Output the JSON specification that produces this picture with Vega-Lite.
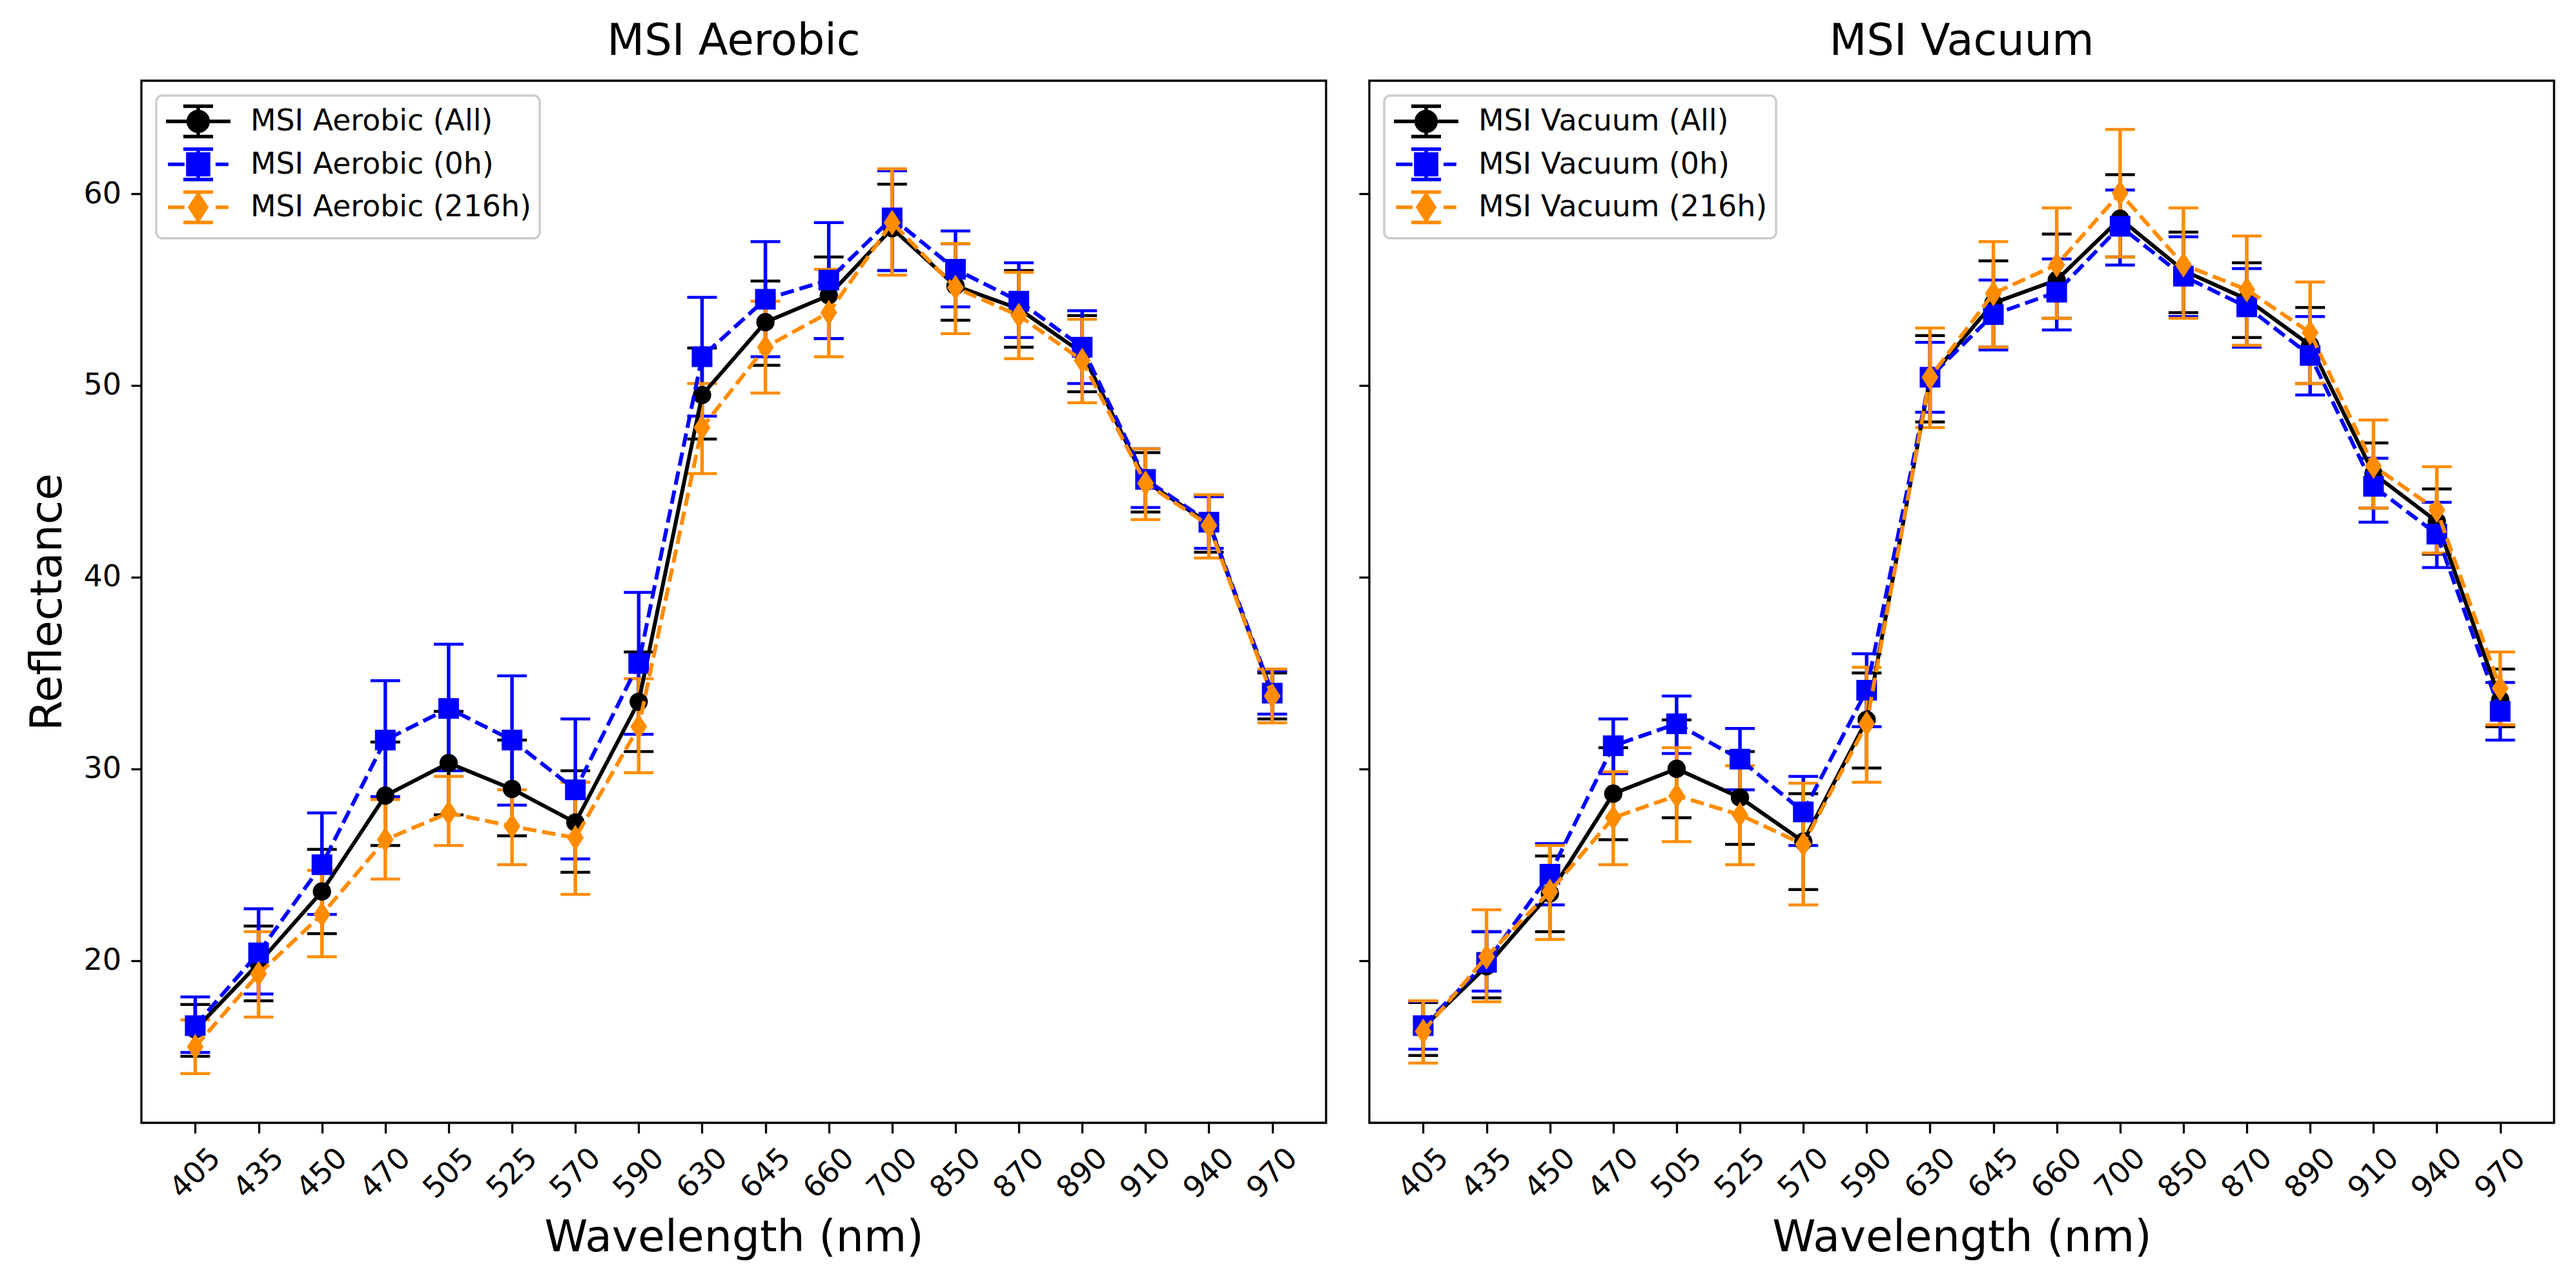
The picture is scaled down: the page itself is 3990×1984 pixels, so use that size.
{
 "$schema": "https://vega.github.io/schema/vega-lite/v6.json",
 "background": "white",
 "padding": {"left": 38, "top": 29, "right": 20, "bottom": 20},
 "config": {
  "font": "DejaVu Sans",
  "view": {"stroke": "black", "strokeWidth": 3.3},
  "axis": {"domain": false, "grid": false, "tickColor": "black", "tickWidth": 3.3, "tickSize": 16, "labelFont": "DejaVu Sans", "labelFontSize": 46, "labelColor": "black", "titleFont": "DejaVu Sans", "titleFontSize": 68, "titleFontWeight": "normal", "titleColor": "black"},
  "axisX": {"labelAngle": -45, "labelAlign": "center", "labelBaseline": "middle", "labelPadding": 62, "labelOverlap": false, "titleX": 917.5, "titleY": 198, "titleAlign": "center", "titleBaseline": "alphabetic"},
  "axisY": {"tickCount": 5, "labelPadding": 15.5, "titleX": -125, "titleY": 807, "titleAngle": -90, "titleAlign": "center", "titleBaseline": "alphabetic"},
  "title": {"font": "DejaVu Sans", "fontSize": 67, "fontWeight": "normal", "color": "black", "baseline": "alphabetic", "offset": 26, "frame": "group", "anchor": "middle"},
  "legend": {"labelFont": "DejaVu Sans", "labelFontSize": 45.8, "labelColor": "black", "labelLimit": 2000}
 },
 "datasets": {
  "msi": [
   {"p":"Aerobic","s":"MSI Aerobic (All)","g":"All","wl":"405","m":16.4,"lo":15.0,"hi":17.7},
   {"p":"Aerobic","s":"MSI Aerobic (All)","g":"All","wl":"435","m":19.85,"lo":17.9,"hi":21.8},
   {"p":"Aerobic","s":"MSI Aerobic (All)","g":"All","wl":"450","m":23.6,"lo":21.4,"hi":25.8},
   {"p":"Aerobic","s":"MSI Aerobic (All)","g":"All","wl":"470","m":28.6,"lo":26.0,"hi":31.4},
   {"p":"Aerobic","s":"MSI Aerobic (All)","g":"All","wl":"505","m":30.3,"lo":27.6,"hi":33.0},
   {"p":"Aerobic","s":"MSI Aerobic (All)","g":"All","wl":"525","m":28.95,"lo":26.5,"hi":31.5},
   {"p":"Aerobic","s":"MSI Aerobic (All)","g":"All","wl":"570","m":27.2,"lo":24.6,"hi":29.9},
   {"p":"Aerobic","s":"MSI Aerobic (All)","g":"All","wl":"590","m":33.5,"lo":30.9,"hi":36.1},
   {"p":"Aerobic","s":"MSI Aerobic (All)","g":"All","wl":"630","m":49.5,"lo":47.2,"hi":51.95},
   {"p":"Aerobic","s":"MSI Aerobic (All)","g":"All","wl":"645","m":53.3,"lo":51.05,"hi":55.45},
   {"p":"Aerobic","s":"MSI Aerobic (All)","g":"All","wl":"660","m":54.7,"lo":52.45,"hi":56.7},
   {"p":"Aerobic","s":"MSI Aerobic (All)","g":"All","wl":"700","m":58.2,"lo":56.0,"hi":60.5},
   {"p":"Aerobic","s":"MSI Aerobic (All)","g":"All","wl":"850","m":55.2,"lo":53.4,"hi":57.4},
   {"p":"Aerobic","s":"MSI Aerobic (All)","g":"All","wl":"870","m":54.0,"lo":52.0,"hi":56.0},
   {"p":"Aerobic","s":"MSI Aerobic (All)","g":"All","wl":"890","m":51.7,"lo":49.67,"hi":53.65},
   {"p":"Aerobic","s":"MSI Aerobic (All)","g":"All","wl":"910","m":45.0,"lo":43.4,"hi":46.5},
   {"p":"Aerobic","s":"MSI Aerobic (All)","g":"All","wl":"940","m":42.8,"lo":41.3,"hi":44.27},
   {"p":"Aerobic","s":"MSI Aerobic (All)","g":"All","wl":"970","m":33.85,"lo":32.6,"hi":35.0},
   {"p":"Aerobic","s":"MSI Aerobic (0h)","g":"0h","wl":"405","m":16.6,"lo":15.2,"hi":18.1},
   {"p":"Aerobic","s":"MSI Aerobic (0h)","g":"0h","wl":"435","m":20.4,"lo":18.25,"hi":22.7},
   {"p":"Aerobic","s":"MSI Aerobic (0h)","g":"0h","wl":"450","m":25.0,"lo":22.4,"hi":27.7},
   {"p":"Aerobic","s":"MSI Aerobic (0h)","g":"0h","wl":"470","m":31.5,"lo":28.55,"hi":34.6},
   {"p":"Aerobic","s":"MSI Aerobic (0h)","g":"0h","wl":"505","m":33.15,"lo":29.9,"hi":36.5},
   {"p":"Aerobic","s":"MSI Aerobic (0h)","g":"0h","wl":"525","m":31.5,"lo":28.1,"hi":34.85},
   {"p":"Aerobic","s":"MSI Aerobic (0h)","g":"0h","wl":"570","m":28.9,"lo":25.3,"hi":32.6},
   {"p":"Aerobic","s":"MSI Aerobic (0h)","g":"0h","wl":"590","m":35.5,"lo":31.8,"hi":39.2},
   {"p":"Aerobic","s":"MSI Aerobic (0h)","g":"0h","wl":"630","m":51.5,"lo":48.4,"hi":54.6},
   {"p":"Aerobic","s":"MSI Aerobic (0h)","g":"0h","wl":"645","m":54.5,"lo":51.5,"hi":57.5},
   {"p":"Aerobic","s":"MSI Aerobic (0h)","g":"0h","wl":"660","m":55.5,"lo":52.45,"hi":58.5},
   {"p":"Aerobic","s":"MSI Aerobic (0h)","g":"0h","wl":"700","m":58.74,"lo":56.0,"hi":61.2},
   {"p":"Aerobic","s":"MSI Aerobic (0h)","g":"0h","wl":"850","m":56.06,"lo":54.1,"hi":58.06},
   {"p":"Aerobic","s":"MSI Aerobic (0h)","g":"0h","wl":"870","m":54.4,"lo":52.5,"hi":56.4},
   {"p":"Aerobic","s":"MSI Aerobic (0h)","g":"0h","wl":"890","m":52.0,"lo":50.1,"hi":53.9},
   {"p":"Aerobic","s":"MSI Aerobic (0h)","g":"0h","wl":"910","m":45.1,"lo":43.63,"hi":46.7},
   {"p":"Aerobic","s":"MSI Aerobic (0h)","g":"0h","wl":"940","m":42.87,"lo":41.5,"hi":44.2},
   {"p":"Aerobic","s":"MSI Aerobic (0h)","g":"0h","wl":"970","m":33.95,"lo":32.85,"hi":35.1},
   {"p":"Aerobic","s":"MSI Aerobic (216h)","g":"216h","wl":"405","m":15.5,"lo":14.1,"hi":16.9},
   {"p":"Aerobic","s":"MSI Aerobic (216h)","g":"216h","wl":"435","m":19.3,"lo":17.05,"hi":21.5},
   {"p":"Aerobic","s":"MSI Aerobic (216h)","g":"216h","wl":"450","m":22.4,"lo":20.2,"hi":24.7},
   {"p":"Aerobic","s":"MSI Aerobic (216h)","g":"216h","wl":"470","m":26.3,"lo":24.25,"hi":28.4},
   {"p":"Aerobic","s":"MSI Aerobic (216h)","g":"216h","wl":"505","m":27.7,"lo":26.0,"hi":29.6},
   {"p":"Aerobic","s":"MSI Aerobic (216h)","g":"216h","wl":"525","m":27.0,"lo":25.0,"hi":28.9},
   {"p":"Aerobic","s":"MSI Aerobic (216h)","g":"216h","wl":"570","m":26.4,"lo":23.45,"hi":29.3},
   {"p":"Aerobic","s":"MSI Aerobic (216h)","g":"216h","wl":"590","m":32.2,"lo":29.8,"hi":34.7},
   {"p":"Aerobic","s":"MSI Aerobic (216h)","g":"216h","wl":"630","m":47.8,"lo":45.4,"hi":50.1},
   {"p":"Aerobic","s":"MSI Aerobic (216h)","g":"216h","wl":"645","m":52.0,"lo":49.6,"hi":54.4},
   {"p":"Aerobic","s":"MSI Aerobic (216h)","g":"216h","wl":"660","m":53.8,"lo":51.5,"hi":56.06},
   {"p":"Aerobic","s":"MSI Aerobic (216h)","g":"216h","wl":"700","m":58.5,"lo":55.75,"hi":61.3},
   {"p":"Aerobic","s":"MSI Aerobic (216h)","g":"216h","wl":"850","m":55.1,"lo":52.7,"hi":57.4},
   {"p":"Aerobic","s":"MSI Aerobic (216h)","g":"216h","wl":"870","m":53.65,"lo":51.4,"hi":55.9},
   {"p":"Aerobic","s":"MSI Aerobic (216h)","g":"216h","wl":"890","m":51.3,"lo":49.1,"hi":53.45},
   {"p":"Aerobic","s":"MSI Aerobic (216h)","g":"216h","wl":"910","m":44.9,"lo":43.0,"hi":46.7},
   {"p":"Aerobic","s":"MSI Aerobic (216h)","g":"216h","wl":"940","m":42.7,"lo":41.0,"hi":44.3},
   {"p":"Aerobic","s":"MSI Aerobic (216h)","g":"216h","wl":"970","m":33.8,"lo":32.4,"hi":35.2},
   {"p":"Vacuum","s":"MSI Vacuum (All)","g":"All","wl":"405","m":16.5,"lo":15.04,"hi":17.8},
   {"p":"Vacuum","s":"MSI Vacuum (All)","g":"All","wl":"435","m":19.7,"lo":18.05,"hi":21.5},
   {"p":"Vacuum","s":"MSI Vacuum (All)","g":"All","wl":"450","m":23.5,"lo":21.5,"hi":25.45},
   {"p":"Vacuum","s":"MSI Vacuum (All)","g":"All","wl":"470","m":28.7,"lo":26.3,"hi":31.1},
   {"p":"Vacuum","s":"MSI Vacuum (All)","g":"All","wl":"505","m":30.0,"lo":27.45,"hi":32.55},
   {"p":"Vacuum","s":"MSI Vacuum (All)","g":"All","wl":"525","m":28.5,"lo":26.06,"hi":30.9},
   {"p":"Vacuum","s":"MSI Vacuum (All)","g":"All","wl":"570","m":26.2,"lo":23.7,"hi":28.7},
   {"p":"Vacuum","s":"MSI Vacuum (All)","g":"All","wl":"590","m":32.55,"lo":30.04,"hi":35.0},
   {"p":"Vacuum","s":"MSI Vacuum (All)","g":"All","wl":"630","m":50.4,"lo":48.1,"hi":52.6},
   {"p":"Vacuum","s":"MSI Vacuum (All)","g":"All","wl":"645","m":54.3,"lo":52.0,"hi":56.5},
   {"p":"Vacuum","s":"MSI Vacuum (All)","g":"All","wl":"660","m":55.5,"lo":53.5,"hi":57.9},
   {"p":"Vacuum","s":"MSI Vacuum (All)","g":"All","wl":"700","m":58.7,"lo":56.7,"hi":61.0},
   {"p":"Vacuum","s":"MSI Vacuum (All)","g":"All","wl":"850","m":56.0,"lo":53.8,"hi":58.0},
   {"p":"Vacuum","s":"MSI Vacuum (All)","g":"All","wl":"870","m":54.5,"lo":52.5,"hi":56.4},
   {"p":"Vacuum","s":"MSI Vacuum (All)","g":"All","wl":"890","m":52.1,"lo":50.1,"hi":54.07},
   {"p":"Vacuum","s":"MSI Vacuum (All)","g":"All","wl":"910","m":45.4,"lo":43.6,"hi":47.0},
   {"p":"Vacuum","s":"MSI Vacuum (All)","g":"All","wl":"940","m":42.9,"lo":41.2,"hi":44.6},
   {"p":"Vacuum","s":"MSI Vacuum (All)","g":"All","wl":"970","m":33.6,"lo":32.2,"hi":35.2},
   {"p":"Vacuum","s":"MSI Vacuum (0h)","g":"0h","wl":"405","m":16.6,"lo":15.37,"hi":17.86},
   {"p":"Vacuum","s":"MSI Vacuum (0h)","g":"0h","wl":"435","m":19.9,"lo":18.4,"hi":21.5},
   {"p":"Vacuum","s":"MSI Vacuum (0h)","g":"0h","wl":"450","m":24.5,"lo":22.9,"hi":26.1},
   {"p":"Vacuum","s":"MSI Vacuum (0h)","g":"0h","wl":"470","m":31.2,"lo":29.75,"hi":32.6},
   {"p":"Vacuum","s":"MSI Vacuum (0h)","g":"0h","wl":"505","m":32.35,"lo":30.8,"hi":33.8},
   {"p":"Vacuum","s":"MSI Vacuum (0h)","g":"0h","wl":"525","m":30.5,"lo":28.9,"hi":32.1},
   {"p":"Vacuum","s":"MSI Vacuum (0h)","g":"0h","wl":"570","m":27.75,"lo":26.0,"hi":29.6},
   {"p":"Vacuum","s":"MSI Vacuum (0h)","g":"0h","wl":"590","m":34.1,"lo":32.2,"hi":36.0},
   {"p":"Vacuum","s":"MSI Vacuum (0h)","g":"0h","wl":"630","m":50.43,"lo":48.6,"hi":52.25},
   {"p":"Vacuum","s":"MSI Vacuum (0h)","g":"0h","wl":"645","m":53.7,"lo":51.85,"hi":55.5},
   {"p":"Vacuum","s":"MSI Vacuum (0h)","g":"0h","wl":"660","m":54.87,"lo":52.9,"hi":56.6},
   {"p":"Vacuum","s":"MSI Vacuum (0h)","g":"0h","wl":"700","m":58.3,"lo":56.28,"hi":60.2},
   {"p":"Vacuum","s":"MSI Vacuum (0h)","g":"0h","wl":"850","m":55.7,"lo":53.6,"hi":57.76},
   {"p":"Vacuum","s":"MSI Vacuum (0h)","g":"0h","wl":"870","m":54.1,"lo":52.0,"hi":56.1},
   {"p":"Vacuum","s":"MSI Vacuum (0h)","g":"0h","wl":"890","m":51.57,"lo":49.5,"hi":53.6},
   {"p":"Vacuum","s":"MSI Vacuum (0h)","g":"0h","wl":"910","m":44.74,"lo":42.87,"hi":46.2},
   {"p":"Vacuum","s":"MSI Vacuum (0h)","g":"0h","wl":"940","m":42.24,"lo":40.5,"hi":43.9},
   {"p":"Vacuum","s":"MSI Vacuum (0h)","g":"0h","wl":"970","m":33.0,"lo":31.5,"hi":34.5},
   {"p":"Vacuum","s":"MSI Vacuum (216h)","g":"216h","wl":"405","m":16.3,"lo":14.65,"hi":17.9},
   {"p":"Vacuum","s":"MSI Vacuum (216h)","g":"216h","wl":"435","m":20.2,"lo":17.85,"hi":22.65},
   {"p":"Vacuum","s":"MSI Vacuum (216h)","g":"216h","wl":"450","m":23.6,"lo":21.1,"hi":26.0},
   {"p":"Vacuum","s":"MSI Vacuum (216h)","g":"216h","wl":"470","m":27.45,"lo":25.0,"hi":29.85},
   {"p":"Vacuum","s":"MSI Vacuum (216h)","g":"216h","wl":"505","m":28.6,"lo":26.2,"hi":31.1},
   {"p":"Vacuum","s":"MSI Vacuum (216h)","g":"216h","wl":"525","m":27.6,"lo":25.0,"hi":30.16},
   {"p":"Vacuum","s":"MSI Vacuum (216h)","g":"216h","wl":"570","m":26.06,"lo":22.9,"hi":29.25},
   {"p":"Vacuum","s":"MSI Vacuum (216h)","g":"216h","wl":"590","m":32.35,"lo":29.3,"hi":35.3},
   {"p":"Vacuum","s":"MSI Vacuum (216h)","g":"216h","wl":"630","m":50.43,"lo":47.8,"hi":53.0},
   {"p":"Vacuum","s":"MSI Vacuum (216h)","g":"216h","wl":"645","m":54.8,"lo":52.0,"hi":57.5},
   {"p":"Vacuum","s":"MSI Vacuum (216h)","g":"216h","wl":"660","m":56.3,"lo":53.5,"hi":59.26},
   {"p":"Vacuum","s":"MSI Vacuum (216h)","g":"216h","wl":"700","m":60.04,"lo":56.7,"hi":63.36},
   {"p":"Vacuum","s":"MSI Vacuum (216h)","g":"216h","wl":"850","m":56.3,"lo":53.5,"hi":59.26},
   {"p":"Vacuum","s":"MSI Vacuum (216h)","g":"216h","wl":"870","m":55.0,"lo":52.1,"hi":57.8},
   {"p":"Vacuum","s":"MSI Vacuum (216h)","g":"216h","wl":"890","m":52.75,"lo":50.1,"hi":55.4},
   {"p":"Vacuum","s":"MSI Vacuum (216h)","g":"216h","wl":"910","m":45.8,"lo":43.6,"hi":48.2},
   {"p":"Vacuum","s":"MSI Vacuum (216h)","g":"216h","wl":"940","m":43.5,"lo":41.26,"hi":45.76},
   {"p":"Vacuum","s":"MSI Vacuum (216h)","g":"216h","wl":"970","m":34.2,"lo":32.3,"hi":36.1}
  ]
 },
 "spacing": 67,
 "bounds": "flush",
 "resolve": {"scale": {"color": "independent"}, "legend": {"color": "independent"}},
 "hconcat": [
  {
   "width": 1835, "height": 1614,
   "title": {"text": "MSI Aerobic"},
   "data": {"name": "msi"},
   "transform": [{"filter": "datum.p === 'Aerobic'"}],
   "encoding": {
    "x": {"field": "wl", "type": "ordinal", "title": "Wavelength (nm)", "scale": {"type": "point", "padding": 0.85}},
    "color": {"field": "s", "type": "nominal",
     "scale": {"domain": ["MSI Aerobic (All)", "MSI Aerobic (0h)", "MSI Aerobic (216h)"], "range": ["black", "blue", "#ff8c00"]},
     "legend": {"title": null, "orient": "top-left", "offset": 23, "padding": 13, "symbolSize": 2304, "symbolStrokeWidth": 5.5, "symbolOffset": 25, "labelOffset": 54, "rowPadding": -3.5, "fillColor": "rgba(255,255,255,0.8)", "strokeColor": "#cccccc", "cornerRadius": 9,
      "encode": {
       "legend": {"update": {"strokeWidth": {"value": 3.5}}},
       "symbols": {"update": {
        "shape": {"signal": "datum.value === 'MSI Aerobic (All)' ? 'M-2.08,0H2.08M0,-0.98V0.98M-0.96,-0.98H0.96M-0.96,0.98H0.96M-0.64,0A0.64,0.64,0,1,1,0.64,0A0.64,0.64,0,1,1,-0.64,0Z' : datum.value === 'MSI Aerobic (0h)' ? 'M-1.95,0H-0.88M1.12,0H1.95M0,-0.98V0.98M-0.96,-0.98H0.96M-0.96,0.98H0.96M-0.67,-0.67H0.67V0.67H-0.67Z' : 'M-1.95,0H-0.88M1.12,0H1.95M0,-0.98V0.98M-0.96,-0.98H0.96M-0.96,0.98H0.96M0,-0.83L0.54,0L0,0.83L-0.54,0Z'"},
        "fill": {"signal": "datum.value === 'MSI Aerobic (All)' ? 'black' : datum.value === 'MSI Aerobic (0h)' ? 'blue' : '#ff8c00'"},
        "stroke": {"signal": "datum.value === 'MSI Aerobic (All)' ? 'black' : datum.value === 'MSI Aerobic (0h)' ? 'blue' : '#ff8c00'"},
        "strokeWidth": {"value": 5.5}, "size": {"value": 2304}, "opacity": {"value": 1}, "fillOpacity": {"value": 1}, "strokeOpacity": {"value": 1}}}
      }}
    }
   },
   "layer": [
    {"transform": [{"filter": "datum.g === 'All'"}], "mark": {"type": "rule", "strokeWidth": 5.5}, "encoding": {"y": {"field": "lo", "type": "quantitative", "title": "Reflectance", "scale": {"domain": [11.53, 65.9], "nice": false, "zero": false}}, "y2": {"field": "hi"}}},
    {"transform": [{"filter": "datum.g === 'All'"}], "mark": {"type": "tick", "size": 46, "thickness": 4.5, "opacity": 1}, "encoding": {"y": {"field": "lo", "type": "quantitative", "title": "Reflectance", "scale": {"domain": [11.53, 65.9], "nice": false, "zero": false}}}},
    {"transform": [{"filter": "datum.g === 'All'"}], "mark": {"type": "tick", "size": 46, "thickness": 4.5, "opacity": 1}, "encoding": {"y": {"field": "hi", "type": "quantitative", "title": "Reflectance", "scale": {"domain": [11.53, 65.9], "nice": false, "zero": false}}}},
    {"transform": [{"filter": "datum.g === '0h'"}], "mark": {"type": "rule", "strokeWidth": 5.5}, "encoding": {"y": {"field": "lo", "type": "quantitative", "title": "Reflectance", "scale": {"domain": [11.53, 65.9], "nice": false, "zero": false}}, "y2": {"field": "hi"}}},
    {"transform": [{"filter": "datum.g === '0h'"}], "mark": {"type": "tick", "size": 46, "thickness": 4.5, "opacity": 1}, "encoding": {"y": {"field": "lo", "type": "quantitative", "title": "Reflectance", "scale": {"domain": [11.53, 65.9], "nice": false, "zero": false}}}},
    {"transform": [{"filter": "datum.g === '0h'"}], "mark": {"type": "tick", "size": 46, "thickness": 4.5, "opacity": 1}, "encoding": {"y": {"field": "hi", "type": "quantitative", "title": "Reflectance", "scale": {"domain": [11.53, 65.9], "nice": false, "zero": false}}}},
    {"transform": [{"filter": "datum.g === '216h'"}], "mark": {"type": "rule", "strokeWidth": 5.5}, "encoding": {"y": {"field": "lo", "type": "quantitative", "title": "Reflectance", "scale": {"domain": [11.53, 65.9], "nice": false, "zero": false}}, "y2": {"field": "hi"}}},
    {"transform": [{"filter": "datum.g === '216h'"}], "mark": {"type": "tick", "size": 46, "thickness": 4.5, "opacity": 1}, "encoding": {"y": {"field": "lo", "type": "quantitative", "title": "Reflectance", "scale": {"domain": [11.53, 65.9], "nice": false, "zero": false}}}},
    {"transform": [{"filter": "datum.g === '216h'"}], "mark": {"type": "tick", "size": 46, "thickness": 4.5, "opacity": 1}, "encoding": {"y": {"field": "hi", "type": "quantitative", "title": "Reflectance", "scale": {"domain": [11.53, 65.9], "nice": false, "zero": false}}}},
    {"transform": [{"filter": "datum.g === 'All'"}], "mark": {"type": "line", "strokeWidth": 6}, "encoding": {"y": {"field": "m", "type": "quantitative", "title": "Reflectance", "scale": {"domain": [11.53, 65.9], "nice": false, "zero": false}}}},
    {"transform": [{"filter": "datum.g === 'All'"}], "mark": {"type": "point", "shape": "circle", "size": 804, "filled": true, "opacity": 1, "strokeWidth": 0}, "encoding": {"y": {"field": "m", "type": "quantitative", "title": "Reflectance", "scale": {"domain": [11.53, 65.9], "nice": false, "zero": false}}}},
    {"transform": [{"filter": "datum.g === '0h'"}], "mark": {"type": "line", "strokeWidth": 6, "strokeDash": [21, 9]}, "encoding": {"y": {"field": "m", "type": "quantitative", "title": "Reflectance", "scale": {"domain": [11.53, 65.9], "nice": false, "zero": false}}}},
    {"transform": [{"filter": "datum.g === '0h'"}], "mark": {"type": "point", "shape": "square", "size": 1024, "filled": true, "opacity": 1, "strokeWidth": 0}, "encoding": {"y": {"field": "m", "type": "quantitative", "title": "Reflectance", "scale": {"domain": [11.53, 65.9], "nice": false, "zero": false}}}},
    {"transform": [{"filter": "datum.g === '216h'"}], "mark": {"type": "line", "strokeWidth": 6, "strokeDash": [21, 9]}, "encoding": {"y": {"field": "m", "type": "quantitative", "title": "Reflectance", "scale": {"domain": [11.53, 65.9], "nice": false, "zero": false}}}},
    {"transform": [{"filter": "datum.g === '216h'"}], "mark": {"type": "point", "shape": "M0,-1L0.65,0L0,1L-0.65,0Z", "size": 1600, "filled": true, "opacity": 1, "strokeWidth": 0}, "encoding": {"y": {"field": "m", "type": "quantitative", "title": "Reflectance", "scale": {"domain": [11.53, 65.9], "nice": false, "zero": false}}}}
   ]
  },
  {
   "width": 1835, "height": 1614,
   "title": {"text": "MSI Vacuum"},
   "data": {"name": "msi"},
   "transform": [{"filter": "datum.p === 'Vacuum'"}],
   "encoding": {
    "x": {"field": "wl", "type": "ordinal", "title": "Wavelength (nm)", "scale": {"type": "point", "padding": 0.85}},
    "color": {"field": "s", "type": "nominal",
     "scale": {"domain": ["MSI Vacuum (All)", "MSI Vacuum (0h)", "MSI Vacuum (216h)"], "range": ["black", "blue", "#ff8c00"]},
     "legend": {"title": null, "orient": "top-left", "offset": 23, "padding": 13, "symbolSize": 2304, "symbolStrokeWidth": 5.5, "symbolOffset": 25, "labelOffset": 54, "rowPadding": -3.5, "fillColor": "rgba(255,255,255,0.8)", "strokeColor": "#cccccc", "cornerRadius": 9,
      "encode": {
       "legend": {"update": {"strokeWidth": {"value": 3.5}}},
       "symbols": {"update": {
        "shape": {"signal": "datum.value === 'MSI Vacuum (All)' ? 'M-2.08,0H2.08M0,-0.98V0.98M-0.96,-0.98H0.96M-0.96,0.98H0.96M-0.64,0A0.64,0.64,0,1,1,0.64,0A0.64,0.64,0,1,1,-0.64,0Z' : datum.value === 'MSI Vacuum (0h)' ? 'M-1.95,0H-0.88M1.12,0H1.95M0,-0.98V0.98M-0.96,-0.98H0.96M-0.96,0.98H0.96M-0.67,-0.67H0.67V0.67H-0.67Z' : 'M-1.95,0H-0.88M1.12,0H1.95M0,-0.98V0.98M-0.96,-0.98H0.96M-0.96,0.98H0.96M0,-0.83L0.54,0L0,0.83L-0.54,0Z'"},
        "fill": {"signal": "datum.value === 'MSI Vacuum (All)' ? 'black' : datum.value === 'MSI Vacuum (0h)' ? 'blue' : '#ff8c00'"},
        "stroke": {"signal": "datum.value === 'MSI Vacuum (All)' ? 'black' : datum.value === 'MSI Vacuum (0h)' ? 'blue' : '#ff8c00'"},
        "strokeWidth": {"value": 5.5}, "size": {"value": 2304}, "opacity": {"value": 1}, "fillOpacity": {"value": 1}, "strokeOpacity": {"value": 1}}}
      }}
    }
   },
   "layer": [
    {"transform": [{"filter": "datum.g === 'All'"}], "mark": {"type": "rule", "strokeWidth": 5.5}, "encoding": {"y": {"field": "lo", "type": "quantitative", "axis": {"labels": false, "title": null}, "scale": {"domain": [11.53, 65.9], "nice": false, "zero": false}}, "y2": {"field": "hi"}}},
    {"transform": [{"filter": "datum.g === 'All'"}], "mark": {"type": "tick", "size": 46, "thickness": 4.5, "opacity": 1}, "encoding": {"y": {"field": "lo", "type": "quantitative", "axis": {"labels": false, "title": null}, "scale": {"domain": [11.53, 65.9], "nice": false, "zero": false}}}},
    {"transform": [{"filter": "datum.g === 'All'"}], "mark": {"type": "tick", "size": 46, "thickness": 4.5, "opacity": 1}, "encoding": {"y": {"field": "hi", "type": "quantitative", "axis": {"labels": false, "title": null}, "scale": {"domain": [11.53, 65.9], "nice": false, "zero": false}}}},
    {"transform": [{"filter": "datum.g === '0h'"}], "mark": {"type": "rule", "strokeWidth": 5.5}, "encoding": {"y": {"field": "lo", "type": "quantitative", "axis": {"labels": false, "title": null}, "scale": {"domain": [11.53, 65.9], "nice": false, "zero": false}}, "y2": {"field": "hi"}}},
    {"transform": [{"filter": "datum.g === '0h'"}], "mark": {"type": "tick", "size": 46, "thickness": 4.5, "opacity": 1}, "encoding": {"y": {"field": "lo", "type": "quantitative", "axis": {"labels": false, "title": null}, "scale": {"domain": [11.53, 65.9], "nice": false, "zero": false}}}},
    {"transform": [{"filter": "datum.g === '0h'"}], "mark": {"type": "tick", "size": 46, "thickness": 4.5, "opacity": 1}, "encoding": {"y": {"field": "hi", "type": "quantitative", "axis": {"labels": false, "title": null}, "scale": {"domain": [11.53, 65.9], "nice": false, "zero": false}}}},
    {"transform": [{"filter": "datum.g === '216h'"}], "mark": {"type": "rule", "strokeWidth": 5.5}, "encoding": {"y": {"field": "lo", "type": "quantitative", "axis": {"labels": false, "title": null}, "scale": {"domain": [11.53, 65.9], "nice": false, "zero": false}}, "y2": {"field": "hi"}}},
    {"transform": [{"filter": "datum.g === '216h'"}], "mark": {"type": "tick", "size": 46, "thickness": 4.5, "opacity": 1}, "encoding": {"y": {"field": "lo", "type": "quantitative", "axis": {"labels": false, "title": null}, "scale": {"domain": [11.53, 65.9], "nice": false, "zero": false}}}},
    {"transform": [{"filter": "datum.g === '216h'"}], "mark": {"type": "tick", "size": 46, "thickness": 4.5, "opacity": 1}, "encoding": {"y": {"field": "hi", "type": "quantitative", "axis": {"labels": false, "title": null}, "scale": {"domain": [11.53, 65.9], "nice": false, "zero": false}}}},
    {"transform": [{"filter": "datum.g === 'All'"}], "mark": {"type": "line", "strokeWidth": 6}, "encoding": {"y": {"field": "m", "type": "quantitative", "axis": {"labels": false, "title": null}, "scale": {"domain": [11.53, 65.9], "nice": false, "zero": false}}}},
    {"transform": [{"filter": "datum.g === 'All'"}], "mark": {"type": "point", "shape": "circle", "size": 804, "filled": true, "opacity": 1, "strokeWidth": 0}, "encoding": {"y": {"field": "m", "type": "quantitative", "axis": {"labels": false, "title": null}, "scale": {"domain": [11.53, 65.9], "nice": false, "zero": false}}}},
    {"transform": [{"filter": "datum.g === '0h'"}], "mark": {"type": "line", "strokeWidth": 6, "strokeDash": [21, 9]}, "encoding": {"y": {"field": "m", "type": "quantitative", "axis": {"labels": false, "title": null}, "scale": {"domain": [11.53, 65.9], "nice": false, "zero": false}}}},
    {"transform": [{"filter": "datum.g === '0h'"}], "mark": {"type": "point", "shape": "square", "size": 1024, "filled": true, "opacity": 1, "strokeWidth": 0}, "encoding": {"y": {"field": "m", "type": "quantitative", "axis": {"labels": false, "title": null}, "scale": {"domain": [11.53, 65.9], "nice": false, "zero": false}}}},
    {"transform": [{"filter": "datum.g === '216h'"}], "mark": {"type": "line", "strokeWidth": 6, "strokeDash": [21, 9]}, "encoding": {"y": {"field": "m", "type": "quantitative", "axis": {"labels": false, "title": null}, "scale": {"domain": [11.53, 65.9], "nice": false, "zero": false}}}},
    {"transform": [{"filter": "datum.g === '216h'"}], "mark": {"type": "point", "shape": "M0,-1L0.65,0L0,1L-0.65,0Z", "size": 1600, "filled": true, "opacity": 1, "strokeWidth": 0}, "encoding": {"y": {"field": "m", "type": "quantitative", "axis": {"labels": false, "title": null}, "scale": {"domain": [11.53, 65.9], "nice": false, "zero": false}}}}
   ]
  }
 ]
}
